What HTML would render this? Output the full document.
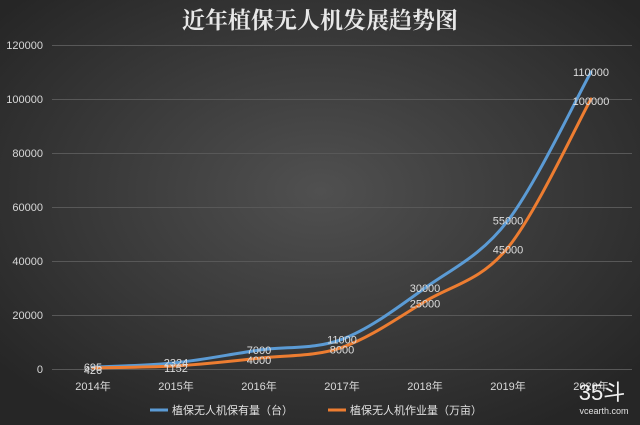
<!DOCTYPE html>
<html><head><meta charset="utf-8"><style>
html,body{margin:0;padding:0;}
body{width:640px;height:425px;overflow:hidden;background:#3a3a3a;}
svg{display:block;font-family:"Liberation Sans","Noto Sans CJK SC",sans-serif;}
</style></head><body>
<svg id="s" width="640" height="425" viewBox="0 0 640 425" xmlns="http://www.w3.org/2000/svg">
<defs>
<radialGradient id="bg" cx="50%" cy="45%" r="65%">
<stop offset="0" stop-color="#505050"/>
<stop offset="1" stop-color="#262626"/>
</radialGradient>
</defs>
<rect width="640" height="425" fill="url(#bg)"/>
<text x="320" y="28" text-anchor="middle" font-family="'Noto Serif CJK SC',serif" font-size="23" font-weight="bold" fill="#e8e8e8">近年植保无人机发展趋势图</text>
<g stroke="#585858" stroke-width="1">
<line x1="52" x2="632" y1="45.5" y2="45.5"/><line x1="52" x2="632" y1="99.5" y2="99.5"/>
<line x1="52" x2="632" y1="153.5" y2="153.5"/><line x1="52" x2="632" y1="207.5" y2="207.5"/>
<line x1="52" x2="632" y1="261.5" y2="261.5"/><line x1="52" x2="632" y1="315.5" y2="315.5"/>
<line x1="52" x2="632" y1="369.5" y2="369.5"/>
</g>
<g fill="#d8d8d8" font-size="11" text-anchor="end">
<text x="43" y="49">120000</text><text x="43" y="103">100000</text><text x="43" y="157">80000</text>
<text x="43" y="211">60000</text><text x="43" y="265">40000</text><text x="43" y="319">20000</text><text x="43" y="373">0</text>
</g>
<g fill="#d8d8d8" font-size="11" text-anchor="middle">
<text x="93" y="390">2014年</text><text x="176" y="390">2015年</text><text x="259" y="390">2016年</text>
<text x="342" y="390">2017年</text><text x="425" y="390">2018年</text><text x="508" y="390">2019年</text><text x="591" y="390">2020年</text>
</g>
<g id="lines"></g>
<g font-size="11" fill="#e0e0e0">
<line x1="150" x2="168" y1="410" y2="410" stroke="#5b9bd5" stroke-width="3"/>
<text x="172" y="414">植保无人机保有量（台）</text>
<line x1="328" x2="346" y1="410" y2="410" stroke="#ed7d31" stroke-width="3"/>
<text x="350" y="414">植保无人机作业量（万亩）</text>
</g>
<text x="602" y="400" font-size="22" fill="#f0f0f0" text-anchor="middle">35斗</text>
<text x="604" y="414" font-size="9" fill="#e0e0e0" text-anchor="middle">vcearth.com</text>
</svg>
<script>
var xs=[93,176,259,342,425,508,591];
var b=[695,2324,7000,11000,30000,55000,110000],o=[426,1152,4000,8000,25000,45000,100000];
function y(v){return 369-v*0.0027;}
function path(vs){var p=xs.map(function(x,i){return [x,y(vs[i])];});var d="M"+p[0];
for(var i=0;i<p.length-1;i++){var p0=p[Math.max(i-1,0)],p1=p[i],p2=p[i+1],p3=p[Math.min(i+2,p.length-1)];var t=6;
d+=" C"+(p1[0]+(p2[0]-p0[0])/t)+","+(p1[1]+(p2[1]-p0[1])/t)+" "+(p2[0]-(p3[0]-p1[0])/t)+","+(p2[1]-(p3[1]-p1[1])/t)+" "+p2[0]+","+p2[1];}return d;}
var g=document.getElementById("lines"),h="";
h+='<path d="'+path(b)+'" fill="none" stroke="#5b9bd5" stroke-width="3" stroke-linecap="round"/>';
h+='<path d="'+path(o)+'" fill="none" stroke="#ed7d31" stroke-width="3" stroke-linecap="round"/>';
for(var i=0;i<7;i++){h+='<text x="'+xs[i]+'" y="'+(y(b[i])+4)+'" font-size="11" fill="#dcdcdc" text-anchor="middle">'+b[i]+'</text>';
h+='<text x="'+xs[i]+'" y="'+(y(o[i])+6)+'" font-size="11" fill="#dcdcdc" text-anchor="middle">'+o[i]+'</text>';}
g.innerHTML=h;
</script>
</body></html>
